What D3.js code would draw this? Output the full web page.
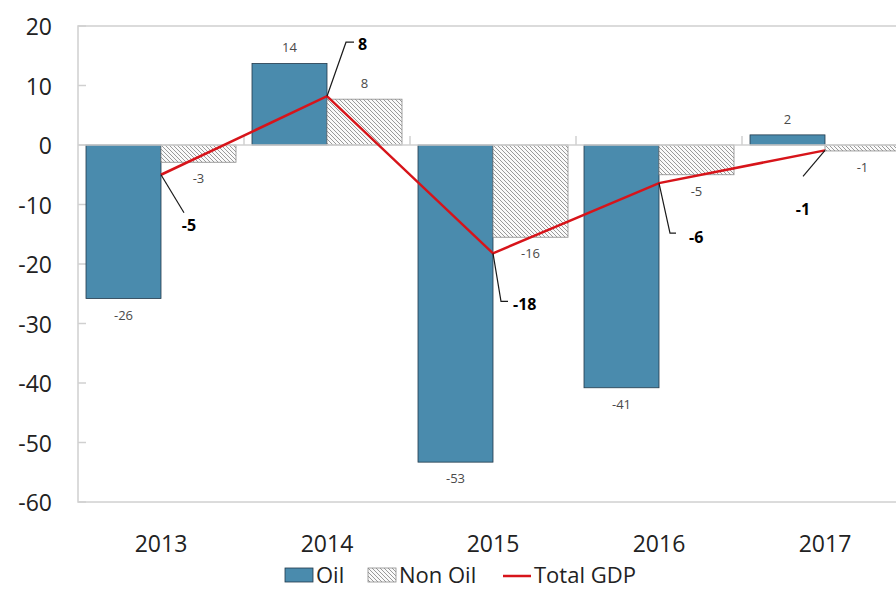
<!DOCTYPE html>
<html>
<head>
<meta charset="utf-8">
<script src="https://cdn.jsdelivr.net/npm/d3@7"></script>
<style>
  body { margin: 0; background: #fff; }
  svg { display: block; font-family: "Open Sans", "Noto Sans", sans-serif; }
</style>
</head>
<body>
<svg id="chart"></svg>
<script>
// chart data
const years = ["2013", "2014", "2015", "2016", "2017"];
const oil = [-25.8, 13.7, -53.3, -40.8, 1.7];
const nonOil = [-2.9, 7.7, -15.5, -5.0, -1.0];
const totalGdp = [-5.0, 8.2, -18.2, -6.4, -0.9];
const oilLabels = ["-26", "14", "-53", "-41", "2"];
const nonOilLabels = ["-3", "8", "-16", "-5", "-1"];
const gdpLabels = ["-5", "8", "-18", "-6", "-1"];
const yTicks = [20, 10, 0, -10, -20, -30, -40, -50, -60];
const legendNames = ["Oil", "Non Oil", "Total GDP"];

// leader line layout for the bold total labels: [elbow dx, elbow dy, tail, label dx, label dy]
const leaders = [
  [23, 38, 0, 28, 50],
  [19, -54, 8, 31, -52],
  [8, 48, 7, 20, 51],
  [11, 50, 6, 30, 54],
  [-22, 26, 0, -22, 59]
];

const width = 896, height = 590;
const plot = { left: 78, right: 908, top: 26, bottom: 502 };

const svg = d3.select("#chart").attr("width", width).attr("height", height);

const x = d3.scaleBand().domain(years).range([plot.left, plot.right]).padding(0);
const y = d3.scaleLinear().domain([-60, 20]).range([plot.bottom, plot.top]);
const barW = x.bandwidth() * 75 / 166;
const cx = d => x(d) + x.bandwidth() / 2;

// hatch pattern for non oil
const defs = svg.append("defs");
const pat = defs.append("pattern")
  .attr("id", "hatch")
  .attr("patternUnits", "userSpaceOnUse")
  .attr("width", 4).attr("height", 4);
pat.append("rect").attr("width", 4).attr("height", 4).attr("fill", "#fafafa");
pat.append("path").attr("d", "M-1,-1 L5,5 M-1,3 L1,5 M3,-1 L5,1")
  .attr("stroke", "#9a9a9a").attr("stroke-width", 1);

// plot frame
svg.append("rect")
  .attr("x", plot.left).attr("y", plot.top)
  .attr("width", plot.right - plot.left).attr("height", plot.bottom - plot.top)
  .attr("fill", "none").attr("stroke", "#d0d0d0").attr("stroke-width", 1.5);

// y ticks (inward) + labels
svg.append("g").selectAll("line").data(yTicks).enter().append("line")
  .attr("x1", plot.left).attr("x2", plot.left + 8)
  .attr("y1", d => y(d)).attr("y2", d => y(d))
  .attr("stroke", "#d0d0d0").attr("stroke-width", 1.5);

svg.append("g").selectAll("text").data(yTicks).enter().append("text")
  .attr("x", 52).attr("y", d => y(d))
  .attr("text-anchor", "end").attr("dominant-baseline", "central")
  .attr("fill", "#222").style("font-size", "23px")
  .text(d => d);

// bars
const oilColor = "#4a8bad";
svg.append("g").selectAll("rect").data(years).enter().append("rect")
  .attr("x", (d) => cx(d) - barW)
  .attr("width", barW)
  .attr("y", (d, i) => y(Math.max(0, oil[i])))
  .attr("height", (d, i) => Math.abs(y(oil[i]) - y(0)))
  .attr("fill", oilColor).attr("stroke", "#22394a").attr("stroke-width", 0.8);

svg.append("g").selectAll("rect").data(years).enter().append("rect")
  .attr("x", (d) => cx(d))
  .attr("width", barW)
  .attr("y", (d, i) => y(Math.max(0, nonOil[i])))
  .attr("height", (d, i) => Math.abs(y(nonOil[i]) - y(0)))
  .attr("fill", "url(#hatch)").attr("stroke", "#8a8a8a").attr("stroke-width", 0.8);

// category axis on zero line
svg.append("line")
  .attr("x1", plot.left).attr("x2", plot.right)
  .attr("y1", y(0)).attr("y2", y(0))
  .attr("stroke", "#d0d0d0").attr("stroke-width", 1.5);
svg.append("g").selectAll("line").data(years.slice(1)).enter().append("line")
  .attr("x1", d => x(d)).attr("x2", d => x(d))
  .attr("y1", y(0)).attr("y2", y(0) - 9)
  .attr("stroke", "#d0d0d0").attr("stroke-width", 1.5);

// x labels
svg.append("g").selectAll("text").data(years).enter().append("text")
  .attr("x", d => cx(d)).attr("y", 543)
  .attr("text-anchor", "middle").attr("dominant-baseline", "central")
  .attr("fill", "#222").style("font-size", "23px")
  .text(d => d);

// bar value labels
const labelOff = 16;
svg.append("g").selectAll("text").data(years).enter().append("text")
  .attr("x", d => cx(d) - barW / 2)
  .attr("y", (d, i) => oil[i] >= 0 ? y(oil[i]) - labelOff : y(oil[i]) + labelOff)
  .attr("text-anchor", "middle").attr("dominant-baseline", "central")
  .attr("fill", "#4a4a4a").style("font-size", "13px")
  .text((d, i) => oilLabels[i]);

svg.append("g").selectAll("text").data(years).enter().append("text")
  .attr("x", d => cx(d) + barW / 2)
  .attr("y", (d, i) => nonOil[i] >= 0 ? y(nonOil[i]) - labelOff : y(nonOil[i]) + labelOff)
  .attr("text-anchor", "middle").attr("dominant-baseline", "central")
  .attr("fill", "#4a4a4a").style("font-size", "13px")
  .text((d, i) => nonOilLabels[i]);

// total GDP line
const line = d3.line().x(d => cx(d[0])).y(d => y(d[1]));
svg.append("path")
  .datum(years.map((d, i) => [d, totalGdp[i]]))
  .attr("d", line)
  .attr("fill", "none").attr("stroke", "#d7141a").attr("stroke-width", 2.5);

// leader lines + bold labels
const gl = svg.append("g");
years.forEach((d, i) => {
  const px = cx(d), py = y(totalGdp[i]);
  const [ex, ey, tail, lx, ly] = leaders[i];
  const pts = [[px, py], [px + ex, py + ey]];
  if (tail) pts.push([px + ex + tail, py + ey]);
  gl.append("path").attr("d", d3.line()(pts))
    .attr("fill", "none").attr("stroke", "#1a1a1a").attr("stroke-width", 1.2);
  gl.append("text")
    .attr("x", px + lx).attr("y", py + ly)
    .attr("text-anchor", tail ? "start" : "middle").attr("dominant-baseline", "central")
    .attr("fill", "#000").style("font-size", "16px").style("font-weight", "bold")
    .text(gdpLabels[i]);
});

// legend
const lg = svg.append("g");
const ly = 574;
const legendX = [285, 368, 503];
lg.append("rect").attr("x", legendX[0]).attr("y", ly - 6).attr("width", 28).attr("height", 14)
  .attr("fill", oilColor).attr("stroke", "#22394a").attr("stroke-width", 0.8);
lg.append("rect").attr("x", legendX[1]).attr("y", ly - 6).attr("width", 28).attr("height", 14)
  .attr("fill", "url(#hatch)").attr("stroke", "#8a8a8a").attr("stroke-width", 0.8);
lg.append("line").attr("x1", legendX[2]).attr("x2", legendX[2] + 28).attr("y1", ly + 2).attr("y2", ly + 2)
  .attr("stroke", "#d7141a").attr("stroke-width", 2.5);
lg.selectAll("text").data(legendNames).enter().append("text")
  .attr("x", (d, i) => legendX[i] + 31).attr("y", ly)
  .attr("dominant-baseline", "central")
  .attr("fill", "#222").style("font-size", "22px")
  .text(d => d);
</script>
</body>
</html>
